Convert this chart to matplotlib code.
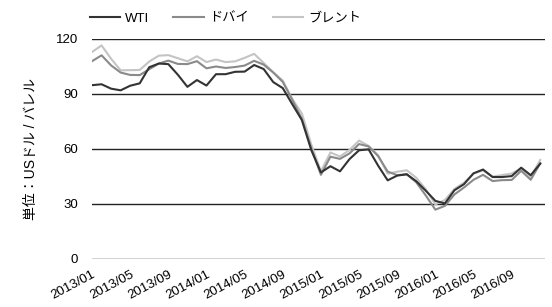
import matplotlib.pyplot as plt

plt.rcParams['font.family'] = ['Liberation Sans', 'Noto Sans CJK JP', 'DejaVu Sans']

# monthly crude prices, 2013/01 - 2016/12 (USD / barrel)
months = [f'{y}/{m:02d}' for y in range(2013, 2017) for m in range(1, 13)]

wti = [94.8, 95.3, 92.9, 92.0, 94.5, 95.8, 104.6, 106.6, 106.3, 100.5, 93.9, 97.6,
       94.6, 100.8, 100.8, 102.1, 102.2, 105.8, 103.6, 96.5, 93.2, 84.4, 75.8, 59.3,
       47.2, 50.6, 47.8, 54.5, 59.3, 59.8, 50.9, 42.9, 45.5, 46.2, 42.4, 37.2,
       31.7, 30.3, 37.5, 40.8, 46.7, 48.8, 44.7, 44.7, 45.2, 49.8, 45.7, 52.0]
dubai = [107.9, 111.1, 105.6, 101.7, 100.4, 100.3, 103.5, 106.6, 108.2, 106.4, 106.3, 107.9,
         104.0, 105.0, 104.2, 104.7, 105.5, 108.1, 106.0, 101.7, 96.6, 86.8, 76.4, 60.2,
         45.9, 55.8, 54.6, 57.6, 62.7, 61.4, 56.1, 47.7, 45.7, 46.2, 41.8, 34.6,
         26.9, 29.0, 35.2, 39.0, 43.2, 45.9, 42.5, 43.0, 43.1, 48.1, 43.2, 52.2]
brent = [112.9, 116.5, 109.2, 102.9, 103.0, 103.1, 107.7, 110.9, 111.2, 109.5, 107.8, 110.6,
         107.4, 108.8, 107.4, 107.8, 109.7, 111.9, 106.9, 101.9, 97.3, 87.3, 79.4, 62.3,
         47.8, 58.1, 55.9, 59.5, 64.6, 61.7, 56.6, 46.5, 47.6, 48.4, 44.3, 38.0,
         29.8, 32.2, 38.2, 41.6, 46.7, 48.3, 44.9, 45.8, 46.6, 49.5, 44.8, 54.0]

x = list(range(len(months)))

fig = plt.figure(figsize=(5.52, 3.07), dpi=100)
ax = fig.add_axes([0.1667, 0.1564, 0.8207, 0.7166])

ax.plot(x, wti, color='#333333', lw=1.5, label='WTI', zorder=5)
ax.plot(x, dubai, color='#8a8a8a', lw=1.5, label='ドバイ', zorder=4)
ax.plot(x, brent, color='#c4c4c4', lw=1.5, label='ブレント', zorder=3)

ax.set_ylim(0, 120)
ax.set_xlim(0, 47.5)
ax.set_yticks([0, 30, 60, 90, 120])
ax.set_xticks(x[::4])
ax.set_xticklabels(months[::4], rotation=28, ha='right', va='top',
                   rotation_mode='anchor', fontsize=9.5)
ax.tick_params(axis='y', labelsize=9.5, length=0, pad=10)
ax.tick_params(axis='x', length=0, pad=7)
ax.grid(axis='y', color='#222222', lw=1)
ax.set_axisbelow(True)
for s in ax.spines.values():
    s.set_visible(False)

ax.set_ylabel('単位：USドル / バレル', fontsize=10, labelpad=13)

ax.legend(loc='lower left', bbox_to_anchor=(-0.005, 1.065), ncol=3, frameon=False,
          fontsize=9.5, handlelength=2.3, columnspacing=1.8, handletextpad=0.4,
          borderaxespad=0, borderpad=0)

fig.savefig('out.png', dpi=100)
